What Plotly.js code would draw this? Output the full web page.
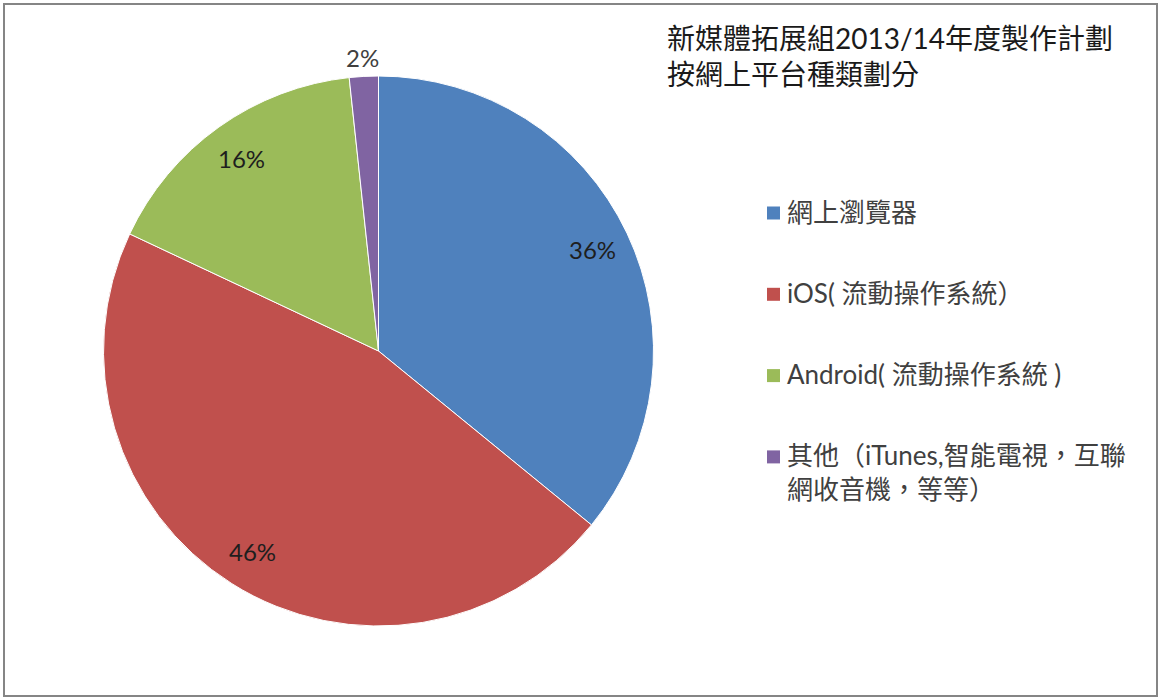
<!DOCTYPE html>
<html>
<head>
<meta charset="utf-8">
<script src="https://cdn.plot.ly/plotly-3.0.1.min.js"></script>
<style>html,body{margin:0;padding:0;background:#fff;}#chart{width:1159px;height:697px;}</style>
</head>
<body>
<div id="chart"></div>
<script>
const titleLines = ['新媒體拓展組2013/14年度製作計劃', '按網上平台種類劃分'];
const labels = ['網上瀏覽器', 'iOS( 流動操作系統）', 'Android( 流動操作系統 )', '其他（iTunes,智能電視，互聯<br>網收音機，等等）'];
const values = [35.9, 46.1, 16.3, 1.7];
const colors = ['#4F81BD', '#C0504D', '#9BBB59', '#8064A2'];

const W = 1159, H = 697;
const FONT = "Lato, 'Noto Sans CJK TC', sans-serif";
const cx = 378.5, cy = 351, R = 275;

const total = values.reduce((a, b) => a + b, 0);
const px = x => x / W;
const py = y => 1 - y / H;

const annotations = [];
const shapes = [];

// percentage labels derived from values
let cum = 0;
values.forEach((v, i) => {
  const frac = v / total;
  const mid = (cum + frac / 2) * 2 * Math.PI;
  cum += frac;
  const outside = frac < 0.05;
  const r = outside ? R + 19 : R * 0.86;
  annotations.push({
    x: px(cx + r * Math.sin(mid)), y: py(cy - r * Math.cos(mid)),
    xref: 'paper', yref: 'paper', showarrow: false,
    xanchor: 'center', yanchor: 'middle',
    text: Math.round(frac * 100) + '%',
    font: {family: FONT, size: 24, color: outside ? '#404040' : '#1e1e1e'}
  });
});

// legend
labels.forEach((lab, i) => {
  const yc = 213 + i * 81.3;
  shapes.push({type: 'rect', xref: 'paper', yref: 'paper',
    x0: px(767), x1: px(780), y0: py(yc - 6.5), y1: py(yc + 6.5),
    fillcolor: colors[i], line: {width: 0}});
  annotations.push({
    x: px(786), y: py(yc - 18.5), xref: 'paper', yref: 'paper', showarrow: false,
    xanchor: 'left', yanchor: 'top', align: 'left', borderpad: 0,
    text: lab, font: {family: FONT, size: 26, color: '#404040'}
  });
});

// frame
shapes.push({type: 'rect', xref: 'paper', yref: 'paper',
  x0: px(4), x1: px(1157), y0: py(696), y1: py(4),
  line: {color: '#858585', width: 2}, fillcolor: 'rgba(0,0,0,0)'});

const trace = {
  type: 'pie',
  labels: labels,
  values: values,
  sort: false,
  direction: 'clockwise',
  rotation: 0,
  textinfo: 'none',
  hoverinfo: 'label+percent',
  marker: {colors: colors, line: {color: '#ffffff', width: 1}},
  domain: {x: [px(cx - R), px(cx + R)], y: [py(cy + R), py(cy - R)]},
  showlegend: false
};

const layout = {
  width: W, height: H,
  margin: {l: 0, r: 0, t: 0, b: 0},
  paper_bgcolor: '#ffffff',
  showlegend: false,
  title: {
    text: titleLines.join('<br>'),
    x: px(667), xanchor: 'left', xref: 'paper',
    y: py(49), yanchor: 'top', yref: 'container',
    font: {family: FONT, size: 28, color: '#1a1a1a'}
  },
  annotations: annotations,
  shapes: shapes
};

Plotly.newPlot('chart', [trace], layout, {displayModeBar: false, staticPlot: true});
</script>
</body>
</html>
